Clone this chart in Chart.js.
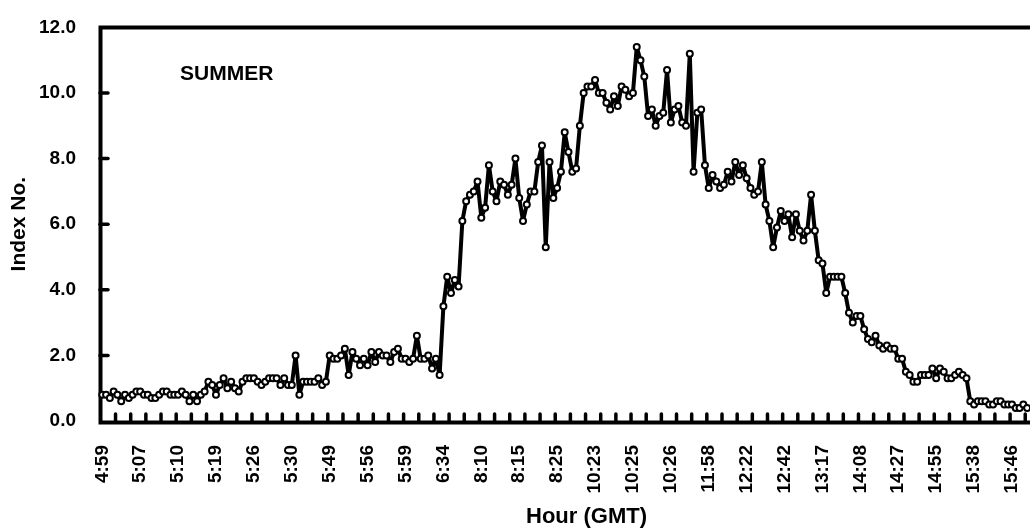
<!DOCTYPE html>
<html>
<head>
<meta charset="utf-8">
<script src="https://cdn.jsdelivr.net/npm/chart.js@4"></script>
<style>
  body { margin: 0; background: #fff; }
  #wrap { width: 1030px; height: 530px; overflow: hidden; }
</style>
</head>
<body>
<div id="wrap"><canvas id="chart" width="1083" height="530"></canvas></div>
<script>
// tick labels, one every 10 readings
const tickLabels = ['4:59', '5:07', '5:10', '5:19', '5:26', '5:30', '5:49', '5:56', '5:59', '6:34',
  '8:10', '8:15', '8:25', '10:23', '10:25', '10:26', '11:58', '12:22', '12:42', '13:17',
  '14:08', '14:27', '14:55', '15:38', '15:46'];

// index values
const indexValues = [
  0.8, 0.8, 0.7, 0.9, 0.8, 0.6, 0.8, 0.7, 0.8, 0.9,
  0.9, 0.8, 0.8, 0.7, 0.7, 0.8, 0.9, 0.9, 0.8, 0.8,
  0.8, 0.9, 0.8, 0.6, 0.8, 0.6, 0.8, 0.9, 1.2, 1.1,
  0.8, 1.1, 1.3, 1.0, 1.2, 1.0, 0.9, 1.2, 1.3, 1.3,
  1.3, 1.2, 1.1, 1.2, 1.3, 1.3, 1.3, 1.1, 1.3, 1.1,
  1.1, 2.0, 0.8, 1.2, 1.2, 1.2, 1.2, 1.3, 1.1, 1.2,
  2.0, 1.9, 1.9, 2.0, 2.2, 1.4, 2.1, 1.9, 1.7, 1.9,
  1.7, 2.1, 1.8, 2.1, 2.0, 2.0, 1.8, 2.1, 2.2, 1.9,
  1.9, 1.8, 1.9, 2.6, 1.9, 1.9, 2.0, 1.6, 1.9, 1.4,
  3.5, 4.4, 3.9, 4.3, 4.1, 6.1, 6.7, 6.9, 7.0, 7.3,
  6.2, 6.5, 7.8, 7.0, 6.7, 7.3, 7.2, 6.9, 7.2, 8.0,
  6.8, 6.1, 6.6, 7.0, 7.0, 7.9, 8.4, 5.3, 7.9, 6.8,
  7.1, 7.6, 8.8, 8.2, 7.6, 7.7, 9.0, 10.0, 10.2, 10.2,
  10.4, 10.0, 10.0, 9.7, 9.5, 9.9, 9.6, 10.2, 10.1, 9.9,
  10.0, 11.4, 11.0, 10.5, 9.3, 9.5, 9.0, 9.3, 9.4, 10.7,
  9.1, 9.5, 9.6, 9.1, 9.0, 11.2, 7.6, 9.4, 9.5, 7.8,
  7.1, 7.5, 7.3, 7.1, 7.2, 7.6, 7.3, 7.9, 7.5, 7.8,
  7.4, 7.1, 6.9, 7.0, 7.9, 6.6, 6.1, 5.3, 5.9, 6.4,
  6.1, 6.3, 5.6, 6.3, 5.8, 5.5, 5.8, 6.9, 5.8, 4.9,
  4.8, 3.9, 4.4, 4.4, 4.4, 4.4, 3.9, 3.3, 3.0, 3.2,
  3.2, 2.8, 2.5, 2.4, 2.6, 2.3, 2.2, 2.3, 2.2, 2.2,
  1.9, 1.9, 1.5, 1.4, 1.2, 1.2, 1.4, 1.4, 1.4, 1.6,
  1.3, 1.6, 1.5, 1.3, 1.3, 1.4, 1.5, 1.4, 1.3, 0.6,
  0.5, 0.6, 0.6, 0.6, 0.5, 0.5, 0.6, 0.6, 0.5, 0.5,
  0.5, 0.4, 0.4, 0.5, 0.4
];

const yTicks = [0, 2, 4, 6, 8, 10, 12];

const FONT = '"Liberation Sans", Arial, sans-serif';

// plot frame, inward tick stubs and the SUMMER note
const framePlugin = {
  id: 'frame',
  beforeDatasetsDraw(chart) {
    const { ctx, chartArea: a, scales: { x, y } } = chart;
    ctx.save();
    ctx.strokeStyle = '#000';
    ctx.lineCap = 'round';
    ctx.lineWidth = 3.5;
    // tick stubs on the x axis, every 4 readings
    for (let k = 1; k * 4 - 0.5 < x.max; k++) {
      const px = x.getPixelForValue(k * 4 - 0.5);
      ctx.beginPath();
      ctx.moveTo(px, a.bottom);
      ctx.lineTo(px, a.bottom - 7);
      ctx.stroke();
    }
    yTicks.slice(1, -1).forEach(v => {
      const py = y.getPixelForValue(v);
      ctx.beginPath();
      ctx.moveTo(a.left, py);
      ctx.lineTo(a.left + 8, py);
      ctx.stroke();
    });
    ctx.lineCap = 'butt';
    ctx.lineWidth = 4;
    ctx.beginPath();
    ctx.moveTo(a.left, a.top);
    ctx.lineTo(a.right, a.top);
    ctx.lineTo(a.right, a.bottom + 1.5);
    ctx.moveTo(a.left + 0.5, a.top - 2);
    ctx.lineTo(a.left + 0.5, a.bottom + 1.5);
    ctx.lineTo(a.right, a.bottom + 1.5);
    ctx.stroke();

    ctx.fillStyle = '#000';
    ctx.font = 'bold 21px ' + FONT;
    ctx.textAlign = 'left';
    ctx.textBaseline = 'alphabetic';
    ctx.fillText('SUMMER', 180, 80);
    ctx.restore();
  }
};

new Chart(document.getElementById('chart'), {
  type: 'line',
  data: {
    datasets: [{
      data: indexValues.map((v, i) => ({ x: i, y: v })),
      borderColor: '#000',
      borderWidth: 4,
      borderJoinStyle: 'round',
      borderCapStyle: 'round',
      pointRadius: 3,
      pointBorderWidth: 2,
      pointBackgroundColor: '#fff',
      pointBorderColor: '#000',
      tension: 0,
      clip: false
    }]
  },
  options: {
    responsive: false,
    animation: false,
    devicePixelRatio: 1,
    events: [],
    layout: { padding: { top: 20, right: 10, left: 0, bottom: 0 } },
    plugins: { legend: { display: false }, tooltip: { enabled: false } },
    scales: {
      x: {
        type: 'linear',
        min: -0.6,
        max: 256.1,
        afterBuildTicks: s => { s.ticks = tickLabels.map((t, i) => ({ value: i * 10 })); },
        afterFit: s => { s.height = 109; },
        grid: { display: false },
        border: { display: false },
        ticks: {
          autoSkip: false,
          minRotation: 90,
          maxRotation: 90,
          padding: 16,
          color: '#000',
          font: { family: FONT, size: 19, weight: 'bold' },
          callback: v => tickLabels[Math.round(v / 10)]
        },
        title: {
          display: true,
          text: 'Hour (GMT)',
          color: '#000',
          padding: { top: 3, bottom: 0 },
          font: { family: FONT, size: 22, weight: 'bold' }
        }
      },
      y: {
        min: 0,
        max: 12,
        afterBuildTicks: s => { s.ticks = yTicks.map(v => ({ value: v })); },
        afterFit: s => { s.width = 100; },
        grid: { display: false },
        border: { display: false },
        ticks: {
          padding: 16,
          color: '#000',
          font: { family: FONT, size: 19, weight: 'bold' },
          callback: v => v.toFixed(1)
        },
        title: {
          display: true,
          text: 'Index No.',
          color: '#000',
          padding: { top: 7, bottom: 0 },
          font: { family: FONT, size: 21, weight: 'bold' }
        }
      }
    }
  },
  plugins: [framePlugin]
});
</script>
</body>
</html>
